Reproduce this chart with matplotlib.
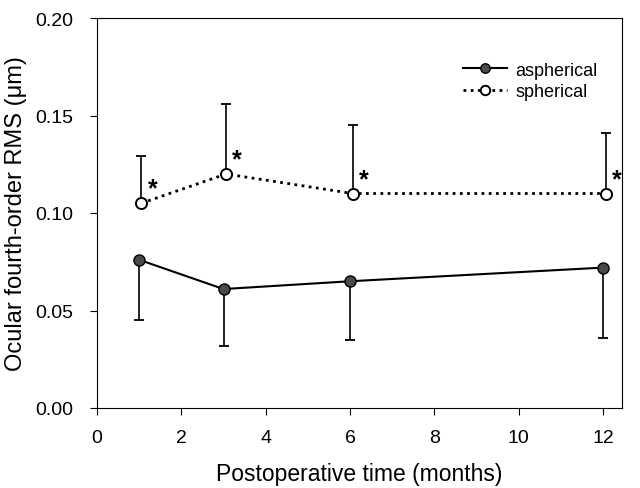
import matplotlib
matplotlib.use("Agg")
import matplotlib.pyplot as plt

plt.rcParams['font.family'] = ['Liberation Sans', 'DejaVu Sans']

months = [1, 3, 6, 12]
sph_x = [1.05, 3.06, 6.06, 12.07]
aspherical = [0.076, 0.061, 0.065, 0.072]
aspherical_lower = [0.045, 0.032, 0.035, 0.036]
spherical = [0.105, 0.120, 0.110, 0.110]
spherical_upper = [0.129, 0.156, 0.145, 0.141]
xticks = [0, 2, 4, 6, 8, 10, 12]
yticks = [0.00, 0.05, 0.10, 0.15, 0.20]

fig = plt.figure(figsize=(6.4, 4.89), dpi=100)
ax = fig.add_axes([97/640, 1 - 409/489, (622-97)/640, (409-19)/489])

a_err = [[a - l for a, l in zip(aspherical, aspherical_lower)], [0]*4]
s_err = [[0]*4, [u - s for s, u in zip(spherical, spherical_upper)]]

ax.errorbar(months, aspherical, yerr=a_err, fmt='none', ecolor='black', elinewidth=1.2, capsize=3.5, capthick=1.3)
ax.errorbar(sph_x, spherical, yerr=s_err, fmt='none', ecolor='black', elinewidth=1.2, capsize=3.5, capthick=1.3)
ax.plot(months, aspherical, '-', color='black', lw=1.5, marker='o', markersize=8,
        markerfacecolor='#4a4a4a', markeredgecolor='black', label='aspherical', zorder=3)
ax.plot(sph_x, spherical, color='black', lw=2, linestyle=(0, (1, 1.6)), marker='o', markersize=8,
        markerfacecolor='white', markeredgecolor='black', markeredgewidth=1.4, label='spherical', zorder=3)

for x, y in zip(sph_x, spherical):
    ax.text(x + 0.15, y + 0.0075, '*', fontsize=18, fontweight='bold', ha='left', va='center')

ax.set_xlim(0, 12.45)
ax.set_ylim(0, 0.2)
ax.set_xticks(xticks)
ax.set_yticks(yticks)
ax.set_yticklabels([f'{v:.2f}' for v in yticks])
ax.tick_params(direction='out', length=5, labelsize=14)
ax.tick_params(axis='x', pad=10)
ax.tick_params(axis='y', pad=12)
ax.set_xlabel('Postoperative time (months)', fontsize=16.5, labelpad=12)
ax.set_ylabel('Ocular fourth-order RMS (\u03bcm)', fontsize=17, labelpad=6)
ax.legend(loc='upper right', bbox_to_anchor=(0.985, 0.93), frameon=False, fontsize=13,
          handlelength=2.4, handletextpad=0.5, labelspacing=0.25, markerscale=0.85)

fig.savefig('out.png', dpi=100)
